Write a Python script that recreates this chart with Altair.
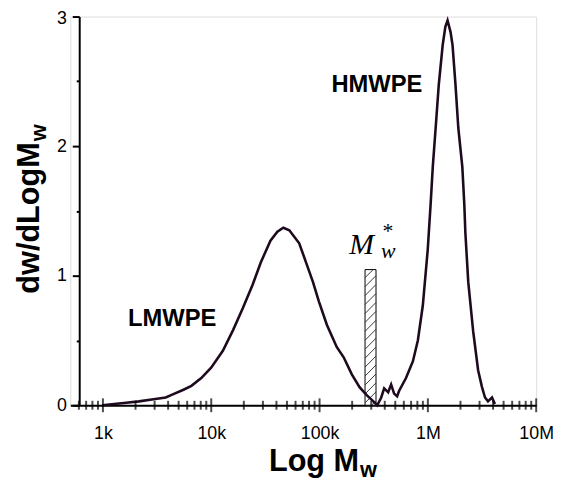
import altair as alt
import pandas as pd
import numpy as np

# ---- data ----
mw = [990, 1270, 1640, 2150, 2830, 3800, 4310, 5540, 6560, 8090,
      9980, 12800, 15900, 19600, 24100, 28600, 35200, 40800, 46300, 52600,
      64900, 76700, 87000, 98700, 117000, 144000, 167000, 198000, 234000, 271000,
      314000, 341000,
      371000, 395000, 430000, 458000, 488000, 520000, 542000, 628000, 728000, 808000,
      898000, 997000, 1060000, 1110000, 1180000, 1260000, 1370000, 1450000, 1520000, 1620000,
      1690000, 1800000, 1910000, 2080000, 2170000, 2220000, 2360000, 2620000, 2910000, 3160000,
      3370000, 3590000, 3910000, 4160000]
dw = [0.00, 0.01, 0.02, 0.03, 0.045, 0.06, 0.08, 0.12, 0.15, 0.21,
      0.29, 0.42, 0.58, 0.75, 0.93, 1.10, 1.27, 1.34, 1.37, 1.35,
      1.25, 1.08, 0.95, 0.80, 0.62, 0.45, 0.37, 0.24, 0.14, 0.08,
      0.03, 0.00,
      0.06, 0.13, 0.10, 0.16, 0.09, 0.07, 0.11, 0.21, 0.34, 0.50,
      0.77, 1.20, 1.55, 1.84, 2.14, 2.47, 2.78, 2.92, 2.97, 2.88,
      2.78, 2.47, 2.14, 1.84, 1.55, 1.33, 0.95, 0.57, 0.27, 0.14,
      0.06, 0.03, 0.06, 0.01]

major_ticks = [1e3, 1e4, 1e5, 1e6, 1e7]
minor_ticks = [600, 700, 800, 900] + [m * d for d in (1e3, 1e4, 1e5, 1e6) for m in range(2, 10)]

# M_w* marker bar
bar_left, bar_right, bar_top = 263000, 332000, 1.047

# ---- derived tables ----
curve = pd.DataFrame({"M": mw, "v": dw})
majors = pd.DataFrame({"M": major_ticks, "v": [0] * len(major_ticks)})
minors = pd.DataFrame({"M": minor_ticks, "v": [0] * len(minor_ticks)})
bar = pd.DataFrame({"M": [bar_left], "M2": [bar_right], "v": [0], "v2": [bar_top]})

# hatch lines ("/") inside the bar
dy, step = 0.085, 0.069
lo, hi = np.log10(bar_left), np.log10(bar_right)
rows = []
y0 = -dy + step / 2
while y0 < bar_top:
    t0 = max(0.0, -y0 / dy)
    t1 = min(1.0, (bar_top - y0) / dy)
    if t1 > t0:
        rows.append({"M": 10 ** (lo + t0 * (hi - lo)), "M2": 10 ** (lo + t1 * (hi - lo)),
                     "v": y0 + t0 * dy, "v2": y0 + t1 * dy})
    y0 += step
hatch = pd.DataFrame(rows)

xscale = alt.Scale(type="log", domain=[500, 1e7], nice=False)
yscale = alt.Scale(domain=[0, 3], nice=False, zero=False)

label_expr = ("datum.value == 1000 ? '1k' : datum.value == 10000 ? '10k' : "
              "datum.value == 100000 ? '100k' : datum.value == 1000000 ? '1M' : '10M'")

X = alt.X("M:Q", scale=xscale,
          axis=alt.Axis(values=major_ticks, labelExpr=label_expr, ticks=False, tickSize=0,
                        labelPadding=20, labelFontSize=18, labelFont="Liberation Sans",
                        labelColor="black", domainColor="black", domainWidth=2,
                        grid=False, title=None, labelFlush=False))
Y = alt.Y("v:Q", scale=yscale,
          axis=alt.Axis(values=[0, 0.5, 1, 1.5, 2, 2.5, 3],
                        labelExpr="datum.value % 1 === 0 ? format(datum.value, 'd') : ''",
                        tickSize={"condition": {"test": "datum.value % 1 === 0", "value": 7}, "value": 3},
                        labelOffset={"condition": {"test": "datum.value === 3", "value": 2}, "value": 0},
                        tickWidth=2, tickColor="black", offset=-9,
                        labelPadding=6, labelFontSize=18, labelFont="Liberation Sans",
                        labelColor="black", domainColor="black", domainWidth=2,
                        grid=False, title=None, labelFlush=False))

line_color = "#1e0a1e"

base_rect = alt.Chart(bar).mark_rect(fill="white", stroke="black", strokeWidth=1).encode(
    x=X, x2="M2:Q", y=Y, y2="v2:Q")
hatch_layer = alt.Chart(hatch).mark_rule(color="#222222", strokeWidth=0.9).encode(
    x=alt.X("M:Q", scale=xscale), x2="M2:Q", y=alt.Y("v:Q", scale=yscale), y2="v2:Q")
line_layer = alt.Chart(curve).mark_line(color=line_color, strokeWidth=2.6).encode(
    x=alt.X("M:Q", scale=xscale), y=alt.Y("v:Q", scale=yscale))
maj_layer = alt.Chart(majors).mark_tick(orient="vertical", size=14, thickness=2, color="black").encode(
    x=alt.X("M:Q", scale=xscale), y=alt.Y("v:Q", scale=yscale))
min_layer = alt.Chart(minors).mark_tick(orient="vertical", size=9, thickness=2, color="black").encode(
    x=alt.X("M:Q", scale=xscale), y=alt.Y("v:Q", scale=yscale))


def txt(s, x, y, size, font="Liberation Sans", weight="bold", style="normal",
        align="center", baseline="alphabetic", angle=0):
    return alt.Chart(alt.Data(values=[{"t": s}])).mark_text(
        font=font, fontSize=size, fontWeight=weight, fontStyle=style, align=align,
        baseline=baseline, angle=angle, color="black").encode(
        x=alt.value(x), y=alt.value(y), text="t:N")


texts = [
    txt("HMWPE", 310, 69, 24, baseline="middle"),
    txt("LMWPE", 103, 306, 24, baseline="middle"),
    txt("Log M", 292, 459, 31, align="right"),
    txt("w", 293, 466, 22, align="left"),
    txt("dw/dLogM", -32, 127, 31, align="right", angle=270),
    txt("w", -25, 126, 22, align="left", angle=270),
    txt("M", 282, 240, 30, font="Liberation Serif", weight="normal", style="italic", align="left"),
    txt("w", 314, 244, 22, font="Liberation Serif", weight="normal", style="italic", align="left"),
    txt("*", 321, 224, 22, font="Liberation Serif", weight="normal"),
]

chart = alt.layer(base_rect, hatch_layer, line_layer, maj_layer, min_layer, *texts).properties(
    width=471, height=393,
    autosize=alt.AutoSizeParams(type="none"),
    padding={"left": 63, "top": 6, "right": 17, "bottom": 80},
).configure_view(stroke=None).configure(background="white")

chart.save("out.html", embed_options={"renderer": "svg", "actions": False})
